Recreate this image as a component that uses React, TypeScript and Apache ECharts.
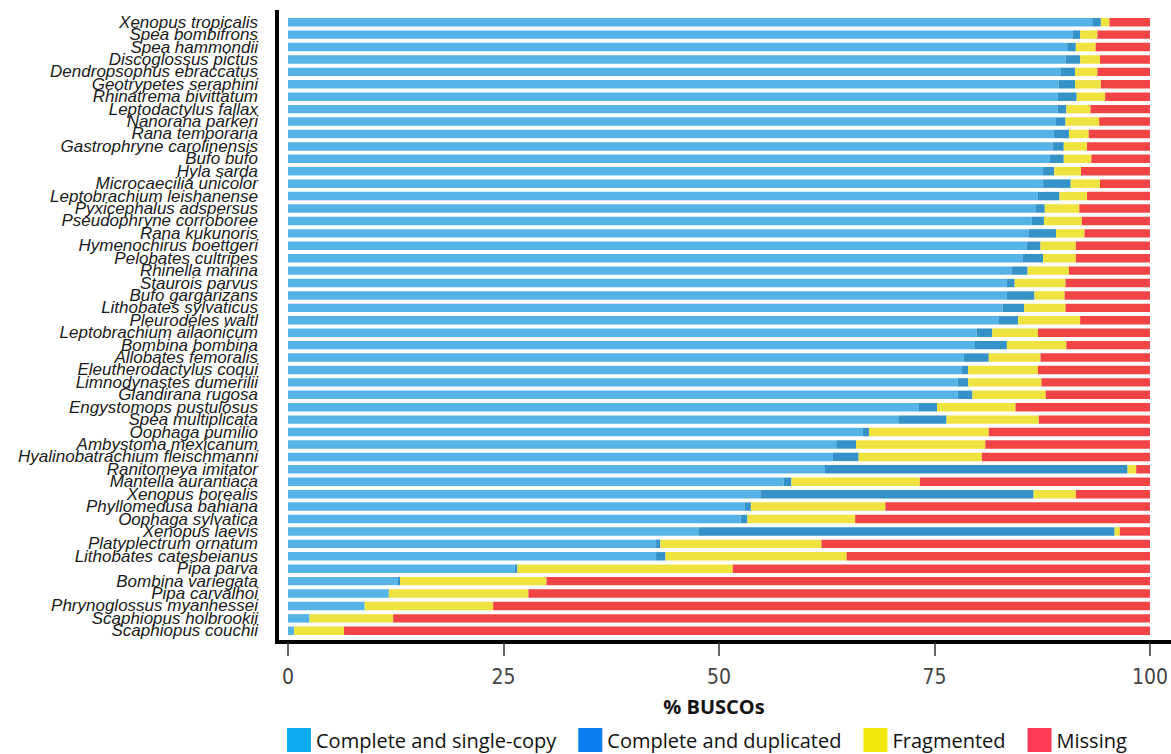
import React, { useEffect, useRef } from "react";
import * as echarts from "echarts";

const species = [
  "Xenopus tropicalis", "Spea bombifrons", "Spea hammondii", "Discoglossus pictus",
  "Dendropsophus ebraccatus", "Geotrypetes seraphini", "Rhinatrema bivittatum",
  "Leptodactylus fallax", "Nanorana parkeri", "Rana temporaria", "Gastrophryne carolinensis",
  "Bufo bufo", "Hyla sarda", "Microcaecilia unicolor", "Leptobrachium leishanense",
  "Pyxicephalus adspersus", "Pseudophryne corroboree", "Rana kukunoris",
  "Hymenochirus boettgeri", "Pelobates cultripes", "Rhinella marina", "Staurois parvus",
  "Bufo gargarizans", "Lithobates sylvaticus", "Pleurodeles waltl",
  "Leptobrachium ailaonicum", "Bombina bombina", "Allobates femoralis",
  "Eleutherodactylus coqui", "Limnodynastes dumerilii", "Glandirana rugosa",
  "Engystomops pustulosus", "Spea multiplicata", "Oophaga pumilio", "Ambystoma mexicanum",
  "Hyalinobatrachium fleischmanni", "Ranitomeya imitator", "Mantella aurantiaca",
  "Xenopus borealis", "Phyllomedusa bahiana", "Oophaga sylvatica", "Xenopus laevis",
  "Platyplectrum ornatum", "Lithobates catesbeianus", "Pipa parva", "Bombina variegata",
  "Pipa carvalhoi", "Phrynoglossus myanhessei", "Scaphiopus holbrookii", "Scaphiopus couchii",
];

const singleCopy = [
  93.3, 91.0, 90.4, 90.2, 89.6, 89.4, 89.3, 89.3, 89.1, 88.8,
  88.7, 88.4, 87.6, 87.6, 87.0, 86.7, 86.3, 85.9, 85.7, 85.2,
  84.0, 83.4, 83.4, 82.9, 82.4, 79.9, 79.7, 78.4, 78.2, 77.7,
  77.7, 73.2, 70.8, 66.7, 63.6, 63.2, 62.3, 57.5, 54.8, 53.0,
  52.5, 47.6, 42.7, 42.7, 26.3, 12.7, 11.7, 8.9, 2.5, 0.7,
];
const duplicated = [
  1.0, 0.9, 1.0, 1.7, 1.7, 1.9, 2.2, 1.0, 1.1, 1.8,
  1.3, 1.6, 1.3, 3.2, 2.5, 1.1, 1.4, 3.2, 1.6, 2.4,
  1.8, 0.9, 3.2, 2.5, 2.3, 1.8, 3.7, 2.9, 0.7, 1.2,
  1.7, 2.1, 5.6, 0.7, 2.3, 3.0, 35.1, 0.9, 31.7, 0.7,
  0.8, 48.3, 0.5, 1.1, 0.3, 0.3, 0.0, 0.0, 0.0, 0.0,
];
const fragmented = [
  1.0, 2.0, 2.3, 2.3, 2.6, 3.0, 3.3, 2.8, 3.9, 2.3,
  2.7, 3.2, 3.1, 3.4, 3.2, 4.0, 4.4, 3.3, 4.1, 3.8,
  4.8, 5.9, 3.5, 4.8, 7.2, 5.3, 6.9, 6.0, 8.1, 8.5,
  8.5, 9.1, 10.7, 13.9, 15.0, 14.3, 1.0, 14.9, 4.9, 15.6,
  12.5, 0.6, 18.7, 21.0, 25.0, 17.0, 16.2, 14.9, 9.7, 5.8,
];
const missing = [
  4.7, 6.1, 6.3, 5.8, 6.1, 5.7, 5.2, 6.9, 5.9, 7.1,
  7.3, 6.8, 8.0, 5.8, 7.3, 8.2, 7.9, 7.6, 8.6, 8.6,
  9.4, 9.8, 9.9, 9.8, 8.1, 13.0, 9.7, 12.7, 13.0, 12.6,
  12.1, 15.6, 12.9, 18.7, 19.1, 19.5, 1.6, 26.7, 8.6, 30.7,
  34.2, 3.5, 38.1, 35.2, 48.4, 70.0, 72.1, 76.2, 87.8, 93.5,
];

const seriesNames = [
  "Complete and single-copy",
  "Complete and duplicated",
  "Fragmented",
  "Missing",
];
const barColors = ["#56B3E8", "#3592C8", "#EFE33F", "#F24444"];
const legendColors = ["#0AABEF", "#0A7DF0", "#F3E80C", "#FE3A55"];
const xTicks = [0, 25, 50, 75, 100];

export default function App() {
  const ref = useRef<HTMLDivElement>(null);
  useEffect(() => {
    if (!ref.current) return;
    const chart = echarts.init(ref.current, null, { renderer: "svg" });
    const values = [singleCopy, duplicated, fragmented, missing];
    chart.setOption({
      animation: false,
      backgroundColor: "#ffffff",
      grid: { left: 288, right: 20, top: 16, bottom: 117, containLabel: false },
      xAxis: {
        type: "value",
        min: xTicks[0],
        max: xTicks[xTicks.length - 1],
        interval: 25,
        offset: 5,
        axisLine: { show: false },
        axisTick: { show: true, length: 14, lineStyle: { color: "#333", width: 1.5 } },
        axisLabel: {
          margin: 24,
          fontSize: 21,
          color: "#444",
          fontFamily: "'Liberation Sans Narrow', 'DejaVu Sans Condensed', sans-serif",
        },
        splitLine: { show: false },
      },
      yAxis: {
        type: "category",
        data: species,
        inverse: true,
        axisLine: { show: false },
        axisTick: { show: false },
        axisLabel: {
          margin: 30,
          fontSize: 17,
          fontStyle: "italic",
          color: "#1a1a1a",
          fontFamily: "'Liberation Sans', Arial, sans-serif",
          interval: 0,
        },
      },
      legend: {
        left: 287,
        top: 728,
        padding: 0,
        itemWidth: 24,
        itemHeight: 24,
        itemGap: 22,
        icon: "rect",
        textStyle: {
          fontSize: 20,
          lineHeight: 24,
          color: "#111",
          fontFamily: "'Open Sans', sans-serif",
        },
        data: seriesNames.map((n, i) => ({ name: n, itemStyle: { color: legendColors[i] } })),
      },
      graphic: [
        {
          type: "line",
          shape: { x1: 277, y1: 10, x2: 277, y2: 644 },
          style: { stroke: "#000", lineWidth: 4 },
        },
        {
          type: "line",
          shape: { x1: 275, y1: 642, x2: 1171, y2: 642 },
          style: { stroke: "#000", lineWidth: 4 },
        },
        {
          type: "text",
          x: 714,
          y: 706,
          style: {
            text: "% BUSCOs",
            fontSize: 20,
            fontWeight: "bold",
            fontFamily: "'Open Sans', sans-serif",
            fill: "#111",
            align: "center",
            verticalAlign: "middle",
          },
        },
      ],
      series: seriesNames.map((n, i) => ({
        name: n,
        type: "bar",
        stack: "total",
        barCategoryGap: "32%",
        itemStyle: { color: barColors[i] },
        data: values[i],
      })),
    });
    return () => chart.dispose();
  }, []);
  return (
    <div
      ref={ref}
      style={{ position: "absolute", left: 0, top: 0, width: 1171, height: 754 }}
    />
  );
}
